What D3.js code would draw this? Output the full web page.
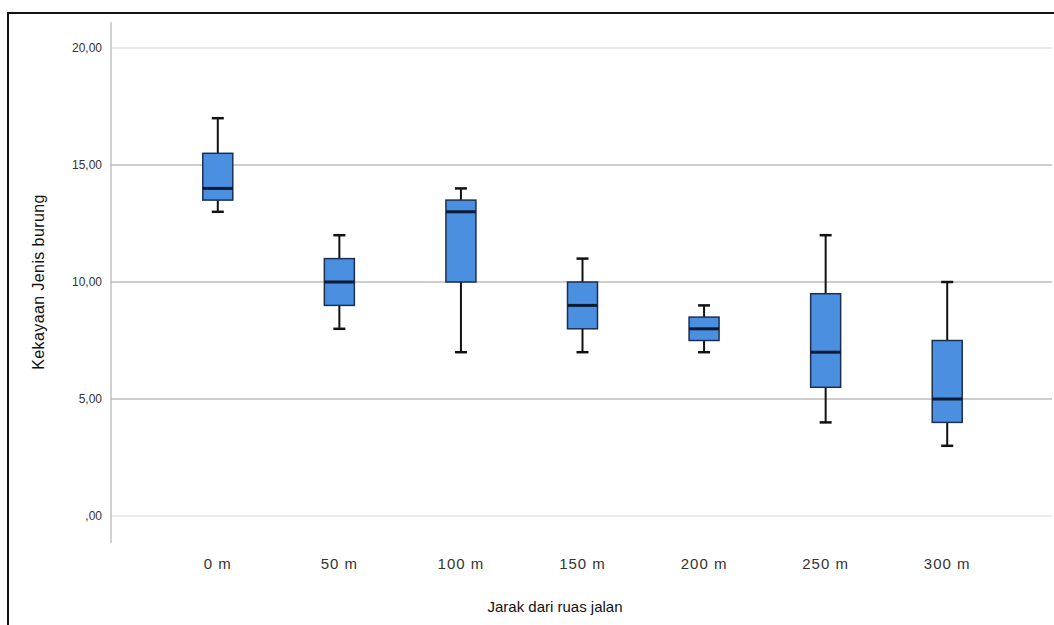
<!DOCTYPE html>
<html>
<head>
<meta charset="utf-8">
<script src="https://cdn.jsdelivr.net/npm/d3@7"></script>
<style>
  body { margin: 0; background: #fff; }
  svg { display: block; font-family: "Liberation Sans", Arial, sans-serif; }
</style>
</head>
<body>
<div id="chart"></div>
<script>
const CATEGORIES = ['0 m', '50 m', '100 m', '150 m', '200 m', '250 m', '300 m'];
const WHISKER_LO = [13, 8, 7, 7, 7, 4, 3];
const Q1 =         [13.5, 9, 10, 8, 7.5, 5.5, 4];
const MEDIAN =     [14, 10, 13, 9, 8, 7, 5];
const Q3 =         [15.5, 11, 13.5, 10, 8.5, 9.5, 7.5];
const WHISKER_HI = [17, 12, 14, 11, 9, 12, 10];
const Y_TICKS = [0, 5, 10, 15, 20];
const Y_TICK_LABELS = [',00', '5,00', '10,00', '15,00', '20,00'];

const W = 1054, H = 625;
const svg = d3.select('#chart').append('svg')
  .attr('width', W).attr('height', H);

// outer frame (right/bottom edges fall outside the picture)
svg.append('rect')
  .attr('x', 8).attr('y', 13)
  .attr('width', W + 20).attr('height', H + 20)
  .attr('fill', 'none').attr('stroke', '#111').attr('stroke-width', 2);

const axisX = 111;
const y = d3.scaleLinear().domain([0, 20]).range([516, 48]);
const x = d3.scaleBand().domain(CATEGORIES).range([157, 1008]);

// gridlines
svg.append('g').selectAll('line')
  .data(Y_TICKS)
  .join('line')
  .attr('x1', axisX).attr('x2', 1052)
  .attr('y1', d => y(d)).attr('y2', d => y(d))
  .attr('stroke', d => (d === 0 || d === 20) ? '#e4e4e4' : '#bdbdbd')
  .attr('stroke-width', 1.3);

// y axis line
svg.append('line')
  .attr('x1', axisX).attr('x2', axisX)
  .attr('y1', 22).attr('y2', 543)
  .attr('stroke', '#b8b8b8').attr('stroke-width', 1.3);

svg.append('g').selectAll('text')
  .data(Y_TICKS)
  .join('text')
  .attr('x', axisX - 9)
  .attr('y', d => y(d))
  .attr('text-anchor', 'end')
  .attr('dominant-baseline', 'central')
  .attr('font-size', '12px')
  .attr('fill', '#333')
  .text((d, i) => Y_TICK_LABELS[i]);

// x tick labels
svg.append('g').selectAll('text')
  .data(CATEGORIES)
  .join('text')
  .attr('x', d => x(d) + x.bandwidth() / 2)
  .attr('y', 563)
  .attr('text-anchor', 'middle')
  .attr('dominant-baseline', 'central')
  .attr('font-size', '15px')
  .attr('letter-spacing', '1px')
  .attr('fill', '#333')
  .text(d => d);

// axis titles
svg.append('text')
  .attr('x', 555).attr('y', 606)
  .attr('text-anchor', 'middle')
  .attr('dominant-baseline', 'central')
  .attr('font-size', '15px')
  .attr('fill', '#111')
  .text('Jarak dari ruas jalan');

svg.append('text')
  .attr('transform', 'translate(38,282) rotate(-90)')
  .attr('text-anchor', 'middle')
  .attr('dominant-baseline', 'central')
  .attr('font-size', '16px')
  .attr('letter-spacing', '0.4px')
  .attr('fill', '#111')
  .text('Kekayaan Jenis burung');

// boxes
const boxW = 30, capW = 12;
const boxes = svg.append('g').selectAll('g')
  .data(CATEGORIES)
  .join('g')
  .attr('transform', d => `translate(${x(d) + x.bandwidth() / 2},0)`);

boxes.append('line')
  .attr('x1', 0).attr('x2', 0)
  .attr('y1', (d, i) => y(WHISKER_HI[i])).attr('y2', (d, i) => y(Q3[i]))
  .attr('stroke', '#111').attr('stroke-width', 2);
boxes.append('line')
  .attr('x1', 0).attr('x2', 0)
  .attr('y1', (d, i) => y(Q1[i])).attr('y2', (d, i) => y(WHISKER_LO[i]))
  .attr('stroke', '#111').attr('stroke-width', 2);

boxes.append('line')
  .attr('x1', -capW / 2).attr('x2', capW / 2)
  .attr('y1', (d, i) => y(WHISKER_HI[i])).attr('y2', (d, i) => y(WHISKER_HI[i]))
  .attr('stroke', '#111').attr('stroke-width', 2.5);
boxes.append('line')
  .attr('x1', -capW / 2).attr('x2', capW / 2)
  .attr('y1', (d, i) => y(WHISKER_LO[i])).attr('y2', (d, i) => y(WHISKER_LO[i]))
  .attr('stroke', '#111').attr('stroke-width', 2.5);

boxes.append('rect')
  .attr('x', -boxW / 2)
  .attr('y', (d, i) => y(Q3[i]))
  .attr('width', boxW)
  .attr('height', (d, i) => y(Q1[i]) - y(Q3[i]))
  .attr('fill', '#4a8fe0')
  .attr('stroke', '#1c2f52')
  .attr('stroke-width', 1.5);

boxes.append('line')
  .attr('x1', -boxW / 2).attr('x2', boxW / 2)
  .attr('y1', (d, i) => y(MEDIAN[i])).attr('y2', (d, i) => y(MEDIAN[i]))
  .attr('stroke', '#0d1a33').attr('stroke-width', 3);
</script>
</body>
</html>
